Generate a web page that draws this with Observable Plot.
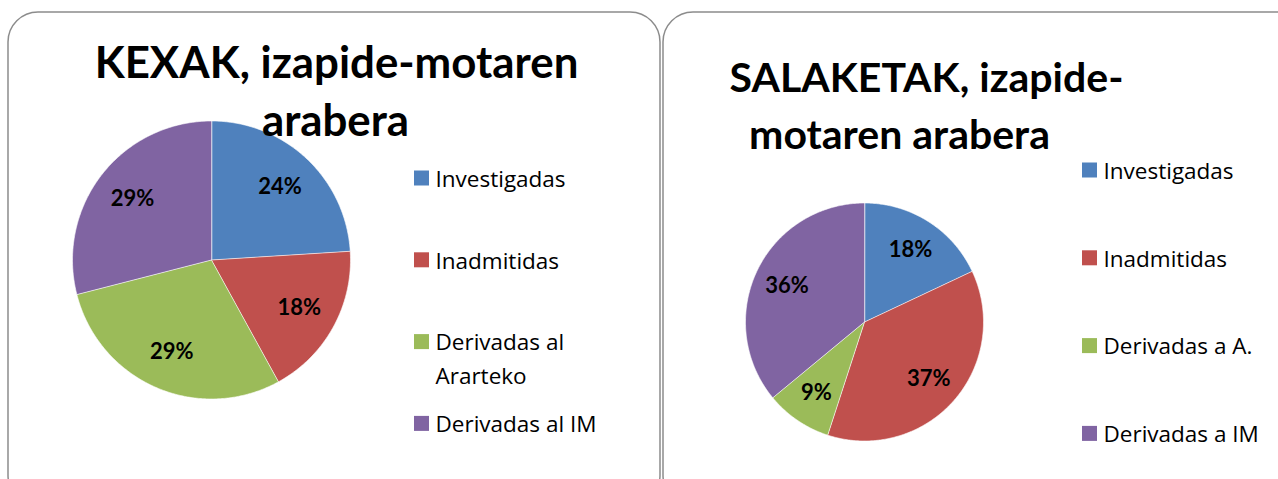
<!DOCTYPE html>
<html><head><meta charset="utf-8">
<script src="https://cdn.jsdelivr.net/npm/d3@7"></script>
<script src="https://cdn.jsdelivr.net/npm/@observablehq/plot@0.6"></script>
<style>html,body{margin:0;padding:0;background:#fff;overflow:hidden;width:1278px;height:479px}
svg text{font-variant-ligatures:none}</style>
</head><body><div id="chart"></div>
<script>
// ---- data ----
const kexakCategories = ["Investigadas", "Inadmitidas", "Derivadas al\nArarteko", "Derivadas al IM"];
const kexakValues = [24, 18, 29, 29];
const salaketakCategories = ["Investigadas", "Inadmitidas", "Derivadas a A.", "Derivadas a IM"];
const salaketakValues = [18, 37, 9, 36];
const sliceColors = ["#4F81BD", "#C0504D", "#9BBB59", "#8064A2"];
const kexakTitle = ["KEXAK, izapide-motaren", "arabera"];
const salaketakTitle = ["SALAKETAK, izapide-", "motaren arabera"];

// ---- layout ----
const W = 1278, H = 479;
const TFONT = "Lato, 'Open Sans', sans-serif";
const LFONT = "'Open Sans', 'Noto Sans', sans-serif";
const panels = [
  {cats: kexakCategories, vals: kexakValues, title: kexakTitle, tf: 43.8,
   box: [8, 12, 660, 505], cx: 211, cy: 259.5, r: 139, lr: 0.72,
   titlePos: [[336, 77], [335, 135]], leg: {x: 414, y0: 178, dy: 81.8}},
  {cats: salaketakCategories, vals: salaketakValues, title: salaketakTitle, tf: 41,
   box: [663, 12, 1310, 505], cx: 864, cy: 321.5, r: 119, lr: 0.72,
   titlePos: [[926, 91], [899, 148]], leg: {x: 1082, y0: 170, dy: 87.8}}
];

const slicePts = [], labels = [], swatches = [], legendText = [], titleText = [], boxes = [];
panels.forEach((p, pi) => {
  const arcs = d3.pie().sort(null).value(d => d)(p.vals);
  arcs.forEach((a, i) => {
    const key = pi + "-" + i;
    const n = Math.max(2, Math.ceil((a.endAngle - a.startAngle) / 0.01));
    slicePts.push({key, i, x: p.cx, y: p.cy});
    for (let k = 0; k <= n; k++) {
      const t = a.startAngle + (a.endAngle - a.startAngle) * k / n;
      slicePts.push({key, i, x: p.cx + p.r * Math.sin(t), y: p.cy - p.r * Math.cos(t)});
    }
    const m = (a.startAngle + a.endAngle) / 2;
    labels.push({x: p.cx + p.lr * p.r * Math.sin(m), y: p.cy - p.lr * p.r * Math.cos(m), text: p.vals[i] + "%"});
    const yc = p.leg.y0 + i * p.leg.dy;
    swatches.push({i, x1: p.leg.x, x2: p.leg.x + 15, y1: yc - 7.5, y2: yc + 7.5});
    legendText.push({x: p.leg.x + 21, y: yc, text: p.cats[i]});
  });
  p.title.forEach((t, li) => titleText.push({x: p.titlePos[li][0], y: p.titlePos[li][1], text: t, f: p.tf}));
  boxes.push({x1: p.box[0], y1: p.box[1], x2: p.box[2], y2: p.box[3]});
});

const LEGF = 22.5, LABF = 22;
const titleMarks = panels.map((p, pi) =>
  Plot.text(titleText.filter(d => d.f === p.tf), {x: "x", y: d => d.y - 0.32 * p.tf, text: "text", fontSize: p.tf, fontWeight: "bold", fill: "black"}));
const chart = Plot.plot({
  width: W, height: H, margin: 0,
  x: {domain: [0, W], range: [0, W], axis: null},
  y: {domain: [0, H], range: [0, H], axis: null},
  color: {type: "identity"},
  style: {background: "white", fontFamily: TFONT},
  marks: [
    Plot.rect(boxes, {x1: "x1", x2: "x2", y1: "y1", y2: "y2", rx: 30, ry: 30, fill: "white", stroke: "#8c8c8c", strokeWidth: 1.5}),
    Plot.line(slicePts, {x: "x", y: "y", z: "key", fill: d => sliceColors[d.i], stroke: "white", strokeWidth: 0.6, curve: "linear-closed"}),
    Plot.text(labels, {x: "x", y: "y", text: "text", fontSize: LABF, fontWeight: "bold", fill: "black"}),
    ...titleMarks,
    Plot.rect(swatches, {x1: "x1", x2: "x2", y1: "y1", y2: "y2", fill: d => sliceColors[d.i]}),
    Plot.text(legendText, {x: "x", y: d => d.y - 0.7 * LEGF, text: "text", textAnchor: "start", lineAnchor: "top", lineHeight: 1.5, fontSize: LEGF, fontFamily: LFONT, fill: "black"})
  ]
});
document.getElementById("chart").appendChild(chart);
</script>
</body></html>
